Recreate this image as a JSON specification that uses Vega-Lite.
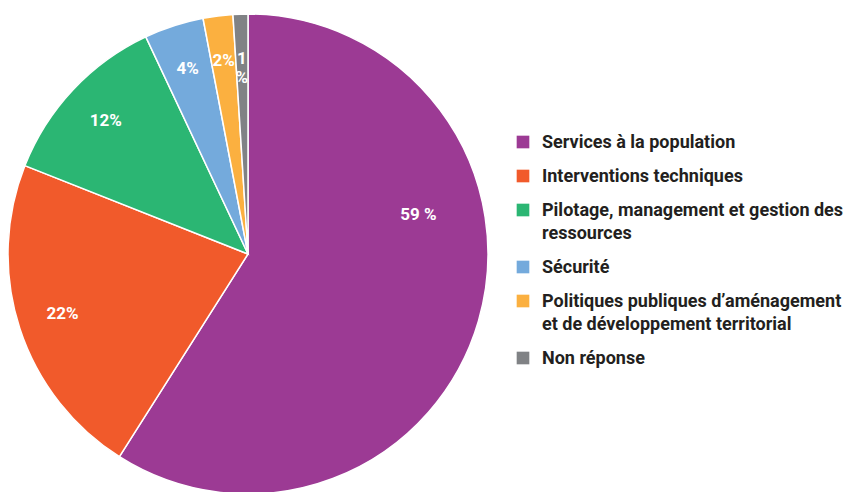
{
  "$schema": "https://vega.github.io/schema/vega-lite/v6.json",
  "width": 860,
  "height": 492,
  "autosize": "none",
  "padding": 0,
  "background": "white",
  "config": {"view": {"stroke": null}, "font": "Roboto"},
  "data": {
    "values": [
      {"categorie": "Services à la population", "pct": 59, "label": "59 %", "rang": 1},
      {"categorie": "Interventions techniques", "pct": 22, "label": "22%", "rang": 2},
      {"categorie": "Pilotage, management et gestion des|ressources", "pct": 12, "label": "12%", "rang": 3},
      {"categorie": "Sécurité", "pct": 4, "label": "4%", "rang": 4},
      {"categorie": "Politiques publiques d’aménagement|et de développement territorial", "pct": 2, "label": "2%", "rang": 5},
      {"categorie": "Non réponse", "pct": 1, "label": "1\n%", "rang": 6}
    ]
  },
  "encoding": {
    "theta": {"field": "pct", "type": "quantitative", "stack": true, "scale": {"domain": [0, 100]}},
    "order": {"field": "rang", "type": "quantitative"},
    "color": {
      "field": "categorie",
      "type": "nominal",
      "scale": {
        "domain": ["Services à la population", "Interventions techniques", "Pilotage, management et gestion des|ressources", "Sécurité", "Politiques publiques d’aménagement|et de développement territorial", "Non réponse"],
        "range": ["#9c3a94", "#f15a2b", "#2bb673", "#74aadc", "#fbb040", "#808285"]
      },
      "legend": {
        "title": null,
        "orient": "none",
        "legendX": 514,
        "legendY": 133,
        "symbolType": "square",
        "symbolSize": 160,
        "symbolStrokeWidth": 0,
        "labelFont": "Roboto",
        "labelFontSize": 18,
        "labelFontWeight": "bold",
        "labelColor": "#231f20",
        "labelBaseline": "top",
        "labelOffset": 10,
        "labelLimit": 400,
        "rowPadding": 15,
        "labelExpr": "split(datum.label, '|')",
        "encoding": {"labels": {"dy": {"value": -8}, "lineHeight": {"value": 23}}}
      }
    }
  },
  "layer": [
    {
      "mark": {"type": "arc", "x": 248, "y": 254, "outerRadius": 240, "stroke": "white", "strokeWidth": 1.5}
    },
    {
      "mark": {"type": "text", "x": 248, "y": 254, "radius": 195, "color": "white", "font": "Roboto", "fontWeight": "bold", "fontSize": 17, "lineBreak": "\n"},
      "encoding": {"text": {"condition": {"test": "datum.rang != 1", "field": "label"}, "value": ""}, "color": {"value": "white"}}
    },
    {
      "mark": {"type": "text", "x": 248, "y": 254, "radius": 175, "thetaOffset": -0.51, "color": "white", "font": "Roboto", "fontWeight": "bold", "fontSize": 17},
      "encoding": {"text": {"condition": {"test": "datum.rang == 1", "field": "label"}, "value": ""}, "color": {"value": "white"}}
    }
  ]
}
